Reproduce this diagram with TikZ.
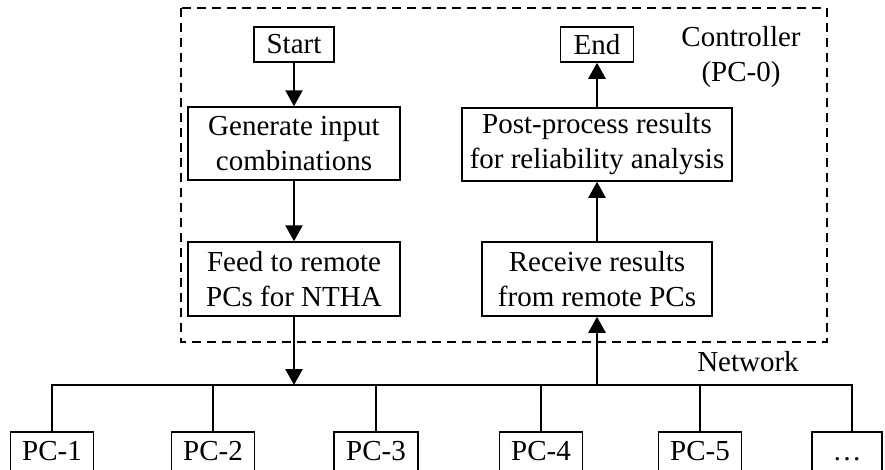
\documentclass[tikz,border=0pt]{standalone}
\usepackage{fontspec}
\setmainfont{Liberation Serif}
\usetikzlibrary{arrows.meta}

\begin{document}
\begin{tikzpicture}
[
	x					= 1pt,
	y					= -1pt, % pixel-like coordinates, y grows downwards
	every node/.style	=
	{
		font			= \fontsize{29}{35}\selectfont,
		inner sep		= 0pt,
		align			= center,
	},
	stepbox/.style		=
	{
		draw,
		line width		= 1.5pt,
	},
	pcbox/.style		=
	{
		stepbox,
		anchor			= north,
		minimum height	= 50pt,
		text height		= 20pt,
		text depth		= 12pt,
	},
	flow/.style			=
	{
		line width		= 2.5pt,
		-{Triangle[width = 17pt, length = 16pt]},
	},
	wire/.style			= {line width = 1.5pt},
]

\clip (0,0) rectangle (885,469);

% controller (PC-0)
\draw [line width = 1.5pt, dash pattern = on 9pt off 6pt] (181,8) rectangle (827,342);
\node (ctrl) at (741,57.5) {Controller\\(PC-0)};

\node [stepbox, minimum width = 80pt,  minimum height = 35pt] (start)    at (294,44.5)  {Start};
\node [stepbox, minimum width = 212pt, minimum height = 73pt] (generate) at (294,143.5) {Generate input\\combinations};
\node [stepbox, minimum width = 212pt, minimum height = 74pt] (feed)     at (294,279)   {Feed to remote\\PCs for NTHA};

\node [stepbox, minimum width = 73pt,  minimum height = 35pt] (stop)     at (597,44.5)  {End};
\node [stepbox, minimum width = 270pt, minimum height = 73pt] (post)     at (597,144.5) {Post-process results\\for reliability analysis};
\node [stepbox, minimum width = 230pt, minimum height = 74pt] (receive)  at (597,279)   {Receive results\\from remote PCs};

% network
\coordinate (busR) at (852,385);
\node (network) at (748,362) {Network};

\foreach \name/\x/\w in {1/52/83, 2/213/83, 3/376/84, 4/541/83, 5/700/83}
{
	\node [pcbox, minimum width = \w pt] (pc\name) at (\x,431) {PC-\name};
}
\node [pcbox, minimum width = 70pt] (pcmore) at (847,431) {…};

\draw [wire] (pc1.north) |- (busR) -- (busR |- pcmore.north);
\foreach \name in {2,...,5}
	\draw [wire] (pc\name.north) -- (pc\name.north |- busR);

\draw [flow] (start) -- (generate);
\draw [flow] (generate) -- (feed);
\draw [flow] (feed.south) -- (feed.south |- busR);
\draw [flow] (receive.south |- busR) -- (receive.south);
\draw [flow] (receive) -- (post);
\draw [flow] (post) -- (stop);

\end{tikzpicture}
\end{document}
